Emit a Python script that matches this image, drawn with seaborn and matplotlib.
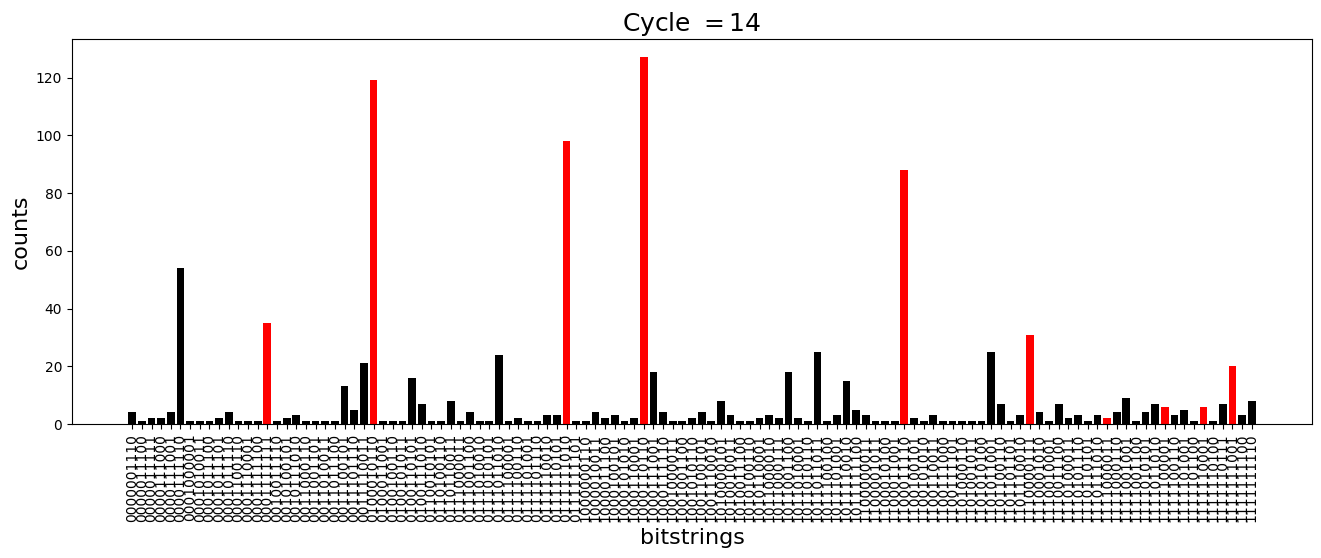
import matplotlib
matplotlib.use("Agg")
import matplotlib.pyplot as plt
import seaborn as sns
import pandas as pd

# measured bitstrings (sorted) and their counts at cycle 14
bitstrings = [
    "0000001110", "0000011100", "0000011111", "0000111000", "0000111001",
    "0000111110", "0001000001", "0001010011", "0001011100", "0001011101",
    "0001011110", "0001100110", "0001110001", "0001111100", "0001111111",
    "0010011110", "0010100101", "0010111010", "0011000110", "0011001101",
    "0011010011", "0011011100", "0011100101", "0011101110", "0011110011",
    "0100010110", "0100011001", "0100100110", "0100101011", "0100110101",
    "0100111010", "0110010101", "0110100110", "0110110011", "0111000011",
    "0111001100", "0111010010", "0111010101", "0111011010", "0111100001",
    "0111100110", "0111101001", "0111101110", "0111110010", "0111110101",
    "0111111010", "0111111101", "1000000110", "1000010011", "1000011100",
    "1000100101", "1000101010", "1000110001", "1000110110", "1000111001",
    "1000111110", "1001000011", "1001001100", "1001010110", "1001100101",
    "1001110010", "1010000101", "1010010011", "1010011100", "1010100110",
    "1010110001", "1011000010", "1011000111", "1011001100", "1011010001",
    "1011010110", "1011011011", "1011100100", "1011101001", "1011110010",
    "1011111100", "1100000011", "1100001011", "1100010100", "1100011001",
    "1100011110", "1100100101", "1100101010", "1100110011", "1100111000",
    "1100111101", "1101000110", "1101001011", "1101010100", "1101011001",
    "1101100110", "1101101101", "1101110010", "1110000111", "1110001010",
    "1110010001", "1110011100", "1110100011", "1110101110", "1110110101",
    "1110111010", "1111000011", "1111000110", "1111001001", "1111001100",
    "1111010101", "1111011010", "1111100001", "1111100110", "1111101001",
    "1111101100", "1111110001", "1111110100", "1111110111", "1111111001",
    "1111111100", "1111111110",
]

counts = [
    4, 1, 2, 2, 4, 54, 1, 1, 1, 2, 4, 1, 1, 1, 35, 1, 2, 3, 1, 1,
    1, 1, 13, 5, 21, 119, 1, 1, 1, 16, 7, 1, 1, 8, 1, 4, 1, 1, 24, 1,
    2, 1, 1, 3, 3, 98, 1, 1, 4, 2, 3, 1, 2, 127, 18, 4, 1, 1, 2, 4,
    1, 8, 3, 1, 1, 2, 3, 2, 18, 2, 1, 25, 1, 3, 15, 5, 3, 1, 1, 1,
    88, 2, 1, 3, 1, 1, 1, 1, 1, 25, 7, 1, 3, 31, 4, 1, 7, 2, 3, 1,
    3, 2, 4, 9, 1, 4, 7, 6, 3, 5, 1, 6, 1, 7, 20, 3, 8,
]

# bitstrings highlighted in red (solutions)
solutions = [
    "0001111111", "0100010110", "0111111010", "1000110110", "1100011110",
    "1110000111", "1111000011", "1111100001", "1111110001", "1111111001",
]

cycle = 14

df = pd.DataFrame({"bitstrings": bitstrings, "counts": counts})
df["kind"] = ["solution" if b in solutions else "other" for b in df["bitstrings"]]

fig, ax = plt.subplots(figsize=(13.21, 5.58), dpi=100)
fig.subplots_adjust(left=0.0545, right=0.9932, bottom=0.2401, top=0.930)

sns.barplot(data=df, x="bitstrings", y="counts", hue="kind",
            palette={"solution": "red", "other": "black"},
            dodge=False, legend=False, saturation=1, width=0.8, ax=ax)

# matplotlib's default 5% margin around the bars
n = len(bitstrings)
span = (n - 1) + 0.8
ax.set_xlim(-0.4 - 0.05 * span, n - 1 + 0.4 + 0.05 * span)
ax.set_ylim(0, max(counts) * 1.05)

ax.tick_params(axis="x", labelrotation=90, labelsize=10)
ax.tick_params(axis="y", labelsize=10)
ax.set_xlabel("bitstrings", fontsize=16)
ax.set_ylabel("counts", fontsize=16)
ax.set_title(f"Cycle $={cycle}$", fontsize=18)

fig.savefig("out.png", dpi=100)
